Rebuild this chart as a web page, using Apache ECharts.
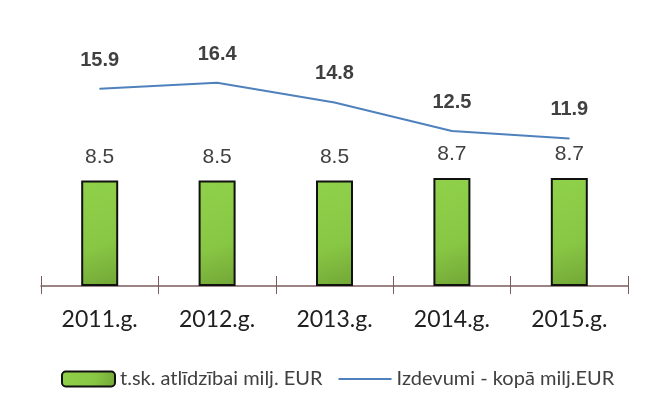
<!DOCTYPE html>
<html>
<head>
<meta charset="utf-8">
<script src="https://cdn.jsdelivr.net/npm/echarts@6/dist/echarts.min.js"></script>
<style>
  html, body { margin: 0; padding: 0; background: #fff; }
  #chart { width: 651px; height: 407px; }
</style>
</head>
<body>
<div id="chart"></div>
<script>
// gadi
const years = ["2011.g.", "2012.g.", "2013.g.", "2014.g.", "2015.g."];
// t.sk. atlīdzībai
const payValues = [8.5, 8.5, 8.5, 8.7, 8.7];
// izdevumi kopā
const totalValues = [15.9, 16.4, 14.8, 12.5, 11.9];

const barName = "t.sk. atlīdzībai milj. EUR";
const lineName = "Izdevumi - kopā milj.EUR";

const myChart = echarts.init(document.getElementById("chart"));

const option = {
  backgroundColor: "#fff",
  animation: false,
  grid: { left: 41, right: 23, top: 38, bottom: 121 },
  legend: {
    top: 364,
    left: 56,
    itemWidth: 53,
    itemHeight: 15,
    itemGap: 15,
    textStyle: { fontFamily: "Lato", fontSize: 20, color: "#404040" },
    data: [
      { name: barName },
      { name: lineName, itemStyle: { opacity: 0 } }
    ]
  },
  xAxis: [
    {
      type: "category",
      data: years,
      axisLine: { lineStyle: { color: "#7a5c5c", width: 1.5 } },
      axisTick: { show: true, length: 8, lineStyle: { color: "#7a5c5c" } },
      axisLabel: { fontFamily: "Lato", fontSize: 23, color: "#202020", margin: 22 }
    },
    {
      type: "category",
      data: years,
      position: "bottom",
      axisLine: { show: false },
      axisTick: { show: true, inside: true, length: 10, lineStyle: { color: "#7a5c5c" } },
      axisLabel: { show: false }
    }
  ],
  yAxis: {
    type: "value",
    min: 0,
    max: 20,
    show: false
  },
  series: [
    {
      name: barName,
      type: "bar",
      barWidth: 37,
      data: payValues,
      itemStyle: {
        color: new echarts.graphic.LinearGradient(0, 0, 1, 1, [
          { offset: 0, color: "#90d14a" },
          { offset: 0.6, color: "#88c744" },
          { offset: 1, color: "#72a636" }
        ]),
        borderColor: "#111",
        borderWidth: 2
      },
      label: {
        show: true,
        position: "top",
        distance: 13,
        fontFamily: "Liberation Sans",
        fontSize: 21,
        color: "#404040"
      }
    },
    {
      name: lineName,
      type: "line",
      data: totalValues,
      symbol: "circle",
      symbolSize: 1,
      lineStyle: { color: "#4f81bd", width: 2 },
      itemStyle: { color: "#4f81bd" },
      label: {
        show: true,
        position: "top",
        distance: 18,
        fontFamily: "Liberation Sans",
        fontSize: 20,
        fontWeight: "bold",
        color: "#404040"
      }
    }
  ]
};

myChart.setOption(option);
</script>
</body>
</html>
